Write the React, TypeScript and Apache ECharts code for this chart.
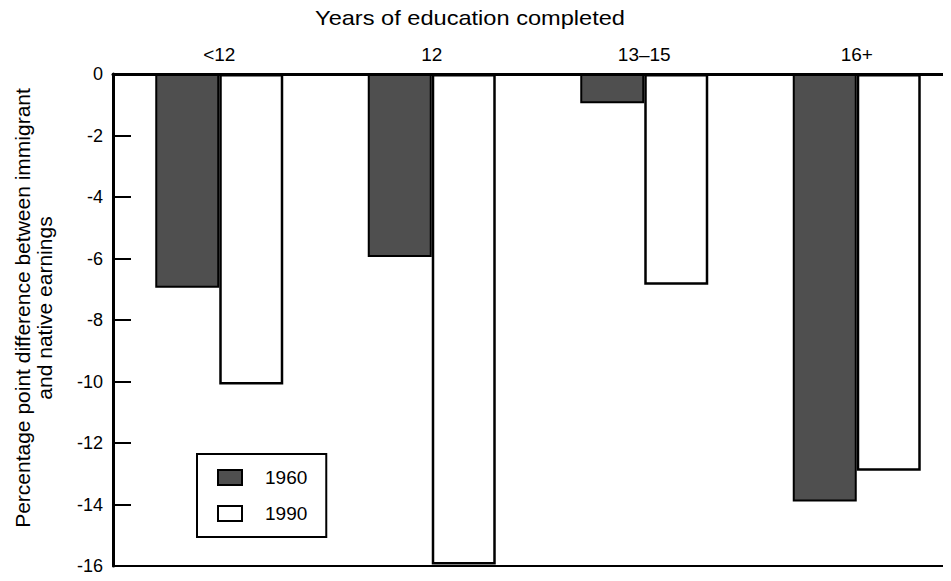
import React, { useEffect, useRef } from "react";
import * as echarts from "echarts";

const categories = ["<12", "12", "13–15", "16+"];
const values1960 = [-6.95, -5.95, -0.95, -13.9];
const values1990 = [-10.1, -15.95, -6.85, -12.9];
const yTicks = { min: -16, max: 0, interval: 2 };
const seriesNames = ["1960", "1990"];
const xTitle = "Years of education completed";
const yTitle = "Percentage point difference between immigrant\nand native earnings";

const FONT = "Liberation Sans, Arial, Helvetica, sans-serif";

export default function App() {
  const ref = useRef<HTMLDivElement>(null);
  useEffect(() => {
    if (!ref.current) return;
    const chart = echarts.init(ref.current, undefined, { renderer: "svg" });
    chart.setOption({
      animation: false,
      backgroundColor: "#ffffff",
      textStyle: { fontFamily: FONT, color: "#000" },
      grid: {
        left: 113,
        right: -12,
        top: 74,
        bottom: 15,
        containLabel: false,
        outerBoundsMode: "none",
      },
      graphic: [
        {
          type: "text",
          x: 470,
          y: 18,
          scaleX: 1.18,
          style: {
            text: xTitle,
            fontSize: 20,
            fontFamily: FONT,
            fill: "#000",
            align: "center",
            verticalAlign: "middle",
          },
        },
      ],
      legend: {
        orient: "vertical",
        left: 197,
        top: 454,
        data: seriesNames,
        icon: "rect",
        itemWidth: 24,
        itemHeight: 15,
        itemGap: 17,
        padding: [14, 19, 14, 20],
        borderColor: "#000",
        borderWidth: 2,
        backgroundColor: "#fff",
        textStyle: { fontSize: 19, fontFamily: FONT, color: "#000", padding: [0, 0, 0, 18] },
        selectedMode: false,
      },
      xAxis: [
        {
          type: "category",
          position: "top",
          data: categories,
          axisLine: { lineStyle: { color: "#000", width: 3 } },
          axisTick: { inside: true, length: 16, lineStyle: { color: "#000", width: 2 } },
          axisLabel: { fontSize: 19, color: "#000", margin: 10, fontFamily: FONT },
          boundaryGap: true,
        },
        {
          type: "category",
          position: "bottom",
          data: categories,
          axisLine: { lineStyle: { color: "#000", width: 2 } },
          axisTick: { show: false },
          axisLabel: { show: false },
        },
      ],
      yAxis: {
        type: "value",
        min: yTicks.min,
        max: yTicks.max,
        interval: yTicks.interval,
        name: yTitle,
        nameLocation: "middle",
        nameRotate: 90,
        nameGap: 58,
        nameTextStyle: {
          fontSize: 21,
          color: "#000",
          fontFamily: FONT,
          lineHeight: 22,
          padding: [0, 0, 0, 24],
        },
        axisLine: { show: true, lineStyle: { color: "#000", width: 3 } },
        axisTick: { show: true, inside: true, length: 18, lineStyle: { color: "#000", width: 2 } },
        axisLabel: { fontSize: 18, color: "#000", margin: 10, fontFamily: FONT },
        splitLine: { show: false },
      },
      series: [
        {
          name: seriesNames[0],
          type: "bar",
          xAxisIndex: 0,
          data: values1960,
          barWidth: 64,
          barGap: "0%",
          itemStyle: { color: "#4f4f4f", borderColor: "#000", borderWidth: 2 },
        },
        {
          name: seriesNames[1],
          type: "bar",
          xAxisIndex: 0,
          data: values1990,
          barWidth: 64,
          barGap: "0%",
          itemStyle: { color: "#ffffff", borderColor: "#000", borderWidth: 2.5 },
        },
      ],
    });
    return () => chart.dispose();
  }, []);
  return <div ref={ref} style={{ width: 951, height: 581, margin: -8 }} />;
}
